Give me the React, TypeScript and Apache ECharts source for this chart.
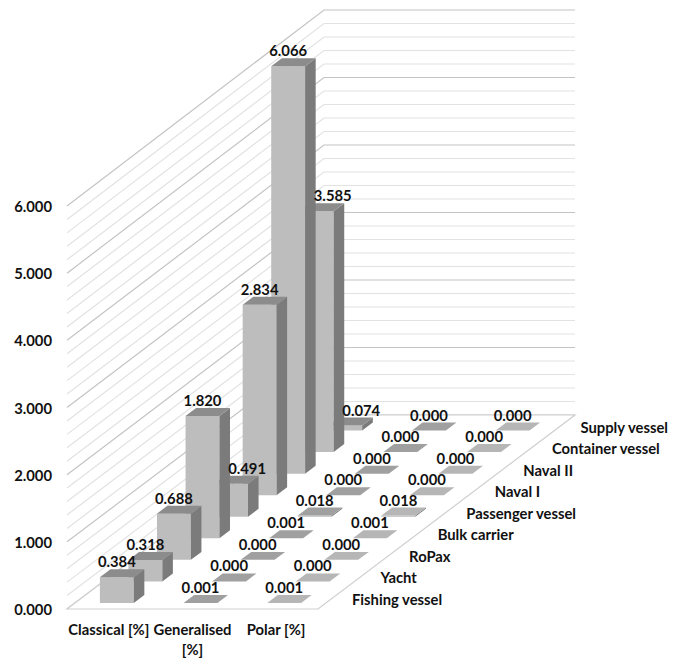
import React, { useEffect, useRef } from "react";
import * as echarts from "echarts";

// Methods compared across the front edge of the floor
const methods = ["Classical [%]", "Generalised\n[%]", "Polar [%]"];
// Vessel types running from the front of the floor to the back
const vessels = [
  "Fishing vessel",
  "Yacht",
  "RoPax",
  "Bulk carrier",
  "Passenger vessel",
  "Naval I",
  "Naval II",
  "Container vessel",
  "Supply vessel",
];
const classical = [0.384, 0.318, 0.688, 1.82, 0.491, 2.834, 6.066, 3.585, 0.074];
const generalised = [0.001, 0.0, 0.0, 0.001, 0.018, 0.0, 0.0, 0.0, 0.0];
const polar = [0.001, 0.0, 0.0, 0.001, 0.018, 0.0, 0.0, 0.0, 0.0];
const wallTicks = [
  0, 0.2, 0.4, 0.6, 0.8, 1, 1.2, 1.4, 1.6, 1.8, 2, 2.2, 2.4, 2.6, 2.8, 3, 3.2, 3.4, 3.6, 3.8, 4, 4.2, 4.4,
  4.6, 4.8, 5, 5.2, 5.4, 5.6, 5.8, 6,
];

// Oblique projection of the depth axis, in pixels across all vessel rows
const DEPTH_X = 257;
const DEPTH_Y = 194;
const ROWS = vessels.length;
const STEP_X = DEPTH_X / ROWS;
const STEP_Y = DEPTH_Y / ROWS;
// The back wall is drawn a touch taller than the value axis
const WALL_STRETCH = 1.005;

// Footprint of one bar inside its cell, as fractions of the cell
const BAR_FRONT = 0.28;
const BAR_BACK = 0.65;
const BAR_WIDTH = 0.405;

// A caption behind a much taller bar slides right, clear of that bar's side face
const SHELTER_GAP = 1;
const SHELTER_SHIFT = 16;

const FONT = "Lato, Carlito, sans-serif";
const FONT_SIZE = 14.8;
const TEXT = "#111111";

const shades = [
  { front: "#bdbdbd", side: "#7b7b7b", top: "#8c8c8c" },
  { front: "#bdbdbd", side: "#7b7b7b", top: "#a0a0a0" },
  { front: "#bdbdbd", side: "#7b7b7b", top: "#b6b6b6" },
];

// Corners of a bar's front face and its depth offset, from the chart's scales
function barFrame(api: any, col: number, row: number, value: number) {
  const base = api.coord([col, 0]);
  const head = api.coord([col, value]);
  const band = api.size([1, 0])[0];
  const left = base[0] - (band * BAR_WIDTH) / 2 + (row + BAR_FRONT) * STEP_X;
  const right = left + band * BAR_WIDTH;
  const bottom = base[1] - (row + BAR_FRONT) * STEP_Y;
  const top = bottom - (base[1] - head[1]);
  const dx = (BAR_BACK - BAR_FRONT) * STEP_X;
  const dy = (BAR_BACK - BAR_FRONT) * STEP_Y;
  return { left, right, bottom, top, dx, dy };
}

function barSeries(name: string, col: number, values: number[]) {
  const rows = values.map((v, i) => [col, i, v]).reverse();
  return {
    type: "custom",
    name,
    z: 3,
    silent: true,
    data: rows,
    encode: { x: 0, y: 2 },
    renderItem: (_p: any, api: any) => {
      const { left, right, bottom, top, dx, dy } = barFrame(api, api.value(0), api.value(1), api.value(2));
      const tone = shades[col];
      return {
        type: "group",
        children: [
          {
            type: "polygon",
            shape: { points: [[left, bottom], [right, bottom], [right, top], [left, top]] },
            style: { fill: tone.front },
          },
          {
            type: "polygon",
            shape: { points: [[right, bottom], [right + dx, bottom - dy], [right + dx, top - dy], [right, top]] },
            style: { fill: tone.side },
          },
          {
            type: "polygon",
            shape: { points: [[left, top], [right, top], [right + dx, top - dy], [left + dx, top - dy]] },
            style: { fill: tone.top },
          },
        ],
      };
    },
  };
}

// Value captions sit above every bar, so they are drawn in a later layer
function captionSeries(name: string, col: number, values: number[]) {
  return {
    type: "custom",
    name,
    z: 6,
    silent: true,
    data: values.map((v, i) => [col, i, v]),
    encode: { x: 0, y: 2 },
    renderItem: (_p: any, api: any) => {
      const row = api.value(1);
      const value = api.value(2);
      const { left, right, top, dy } = barFrame(api, api.value(0), row, value);
      const sheltered = row > 0 && values[row - 1] - value > SHELTER_GAP;
      return {
        type: "text",
        style: {
          x: (left + right) / 2 + (sheltered ? SHELTER_SHIFT : 0),
          y: top - dy - 8,
          text: value.toFixed(3),
          fill: TEXT,
          font: `bold ${FONT_SIZE}px ${FONT}`,
          align: "center",
          verticalAlign: "middle",
        },
      };
    },
  };
}

const option = {
  animation: false,
  backgroundColor: "#ffffff",
  grid: { left: 67, top: 206, width: 251, height: 403, outerBoundsMode: "none" },
  xAxis: {
    type: "category",
    data: methods,
    axisLine: { show: false },
    axisTick: { show: false },
    axisLabel: {
      margin: 10,
      color: TEXT,
      fontFamily: FONT,
      fontWeight: "bold",
      fontSize: FONT_SIZE,
      lineHeight: 20,
      interval: 0,
    },
  },
  yAxis: {
    type: "value",
    min: 0,
    max: 6,
    interval: 1,
    axisLine: { show: false },
    axisTick: { show: false },
    splitLine: { show: false },
    axisLabel: {
      margin: 15,
      color: TEXT,
      fontFamily: FONT,
      fontWeight: "bold",
      fontSize: FONT_SIZE,
      formatter: (v: number) => v.toFixed(3),
    },
  },
  series: [
    // Side and back walls with their tick lines
    {
      type: "custom",
      name: "Walls",
      z: 1,
      silent: true,
      data: wallTicks.map((t) => [0, t]),
      encode: { x: 0, y: 1 },
      renderItem: (_p: any, api: any) => {
        const tick = api.value(1);
        const band = api.size([1, 0])[0];
        const [cx, y] = api.coord([0, tick]);
        const base = api.coord([0, 0])[1];
        const x0 = cx - band / 2;
        const backY = base - DEPTH_Y - (base - y) * WALL_STRETCH;
        const major = Number.isInteger(tick);
        return {
          type: "polyline",
          shape: {
            points: [
              [x0, y],
              [x0 + DEPTH_X, backY],
              [x0 + DEPTH_X + band * 3, backY],
            ],
          },
          style: { fill: "none", stroke: major ? "#c4c4c4" : "#e2e2e2", lineWidth: 1.2 },
        };
      },
    },
    // Outline of the floor
    {
      type: "custom",
      name: "Floor",
      z: 2,
      silent: true,
      data: [[0, 0]],
      encode: { x: 0, y: 1 },
      renderItem: (_p: any, api: any) => {
        const band = api.size([1, 0])[0];
        const [cx, y] = api.coord([0, 0]);
        const x0 = cx - band / 2;
        const x1 = x0 + band * 3;
        return {
          type: "polygon",
          shape: {
            points: [
              [x0, y],
              [x1, y],
              [x1 + DEPTH_X, y - DEPTH_Y],
              [x0 + DEPTH_X, y - DEPTH_Y],
            ],
          },
          style: { fill: "#ffffff", stroke: "#cfcfcf", lineWidth: 1.2 },
        };
      },
    },
    barSeries("Classical", 0, classical),
    barSeries("Generalised", 1, generalised),
    barSeries("Polar", 2, polar),
    captionSeries("Classical values", 0, classical),
    captionSeries("Generalised values", 1, generalised),
    captionSeries("Polar values", 2, polar),
    // Vessel names along the right edge of the floor
    {
      type: "custom",
      name: "Vessels",
      z: 6,
      silent: true,
      data: vessels.map((_, i) => [2, i]),
      encode: { x: 0 },
      renderItem: (_p: any, api: any) => {
        const row = api.value(1);
        const band = api.size([1, 0])[0];
        const [cx, y] = api.coord([2, 0]);
        return {
          type: "text",
          style: {
            x: cx + band / 2 + 34 + row * STEP_X,
            y: y - 10 - row * STEP_Y,
            text: vessels[row],
            fill: TEXT,
            font: `bold ${FONT_SIZE}px ${FONT}`,
            align: "left",
            verticalAlign: "middle",
          },
        };
      },
    },
  ],
};

export default function App() {
  const ref = useRef<HTMLDivElement>(null);
  useEffect(() => {
    const chart = echarts.init(ref.current, null, { renderer: "svg" });
    chart.setOption(option as any);
    return () => chart.dispose();
  }, []);
  return <div ref={ref} style={{ position: "fixed", left: 0, top: 0, width: 686, height: 661 }} />;
}
